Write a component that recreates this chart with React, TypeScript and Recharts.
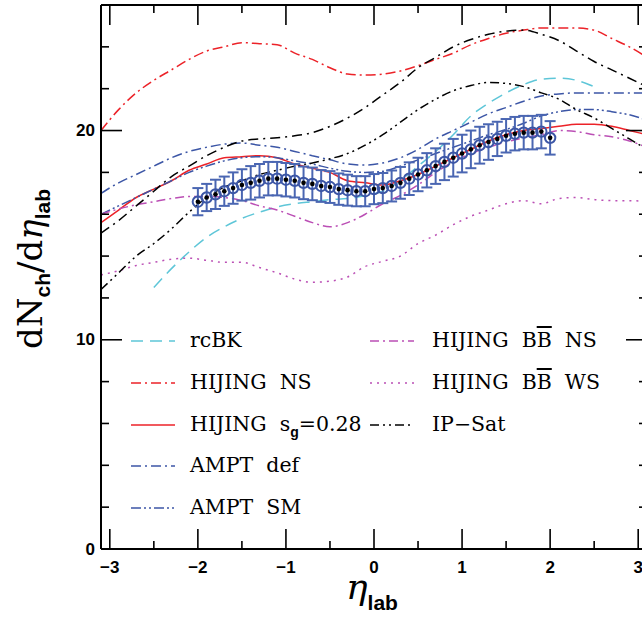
import React from "react";
import {
  ComposedChart,
  Line,
  Scatter,
  ErrorBar,
  XAxis,
  YAxis,
  ReferenceLine,
  Label,
} from "recharts";

// pseudorapidity grid for the model curves
const ETA = [
  -3.1, -2.9, -2.7, -2.5, -2.3, -2.1, -1.9, -1.7, -1.5, -1.3, -1.1, -0.9, -0.7, -0.5, -0.3, -0.1,
  0.1, 0.3, 0.5, 0.7, 0.9, 1.1, 1.3, 1.5, 1.7, 1.9, 2.1, 2.3, 2.5, 2.7, 2.9, 3.1,
];

const RCBK = [
  null, null, null, 12.5, 13.4, 14.2, 14.9, 15.4, 15.8, 16.1, 16.35, 16.5, 16.6, 16.7, 16.75, 16.9,
  17.1, 17.6, 18.3, 19.0, 19.8, 20.7, 21.3, 21.8, 22.2, 22.45, 22.5, 22.4, 22.1, null, null, null,
];
const HIJING_NS = [
  20.0, 21.0, 21.8, 22.4, 22.9, 23.4, 23.8, 24.0, 24.2, 24.15, 24.1, 23.7, 23.4, 23.0, 22.7, 22.65,
  22.7, 22.85, 23.1, 23.4, 23.7, 24.1, 24.4, 24.65, 24.8, 24.9, 24.9, 24.9, 24.8, 24.4, 24.0, 23.5,
];
const HIJING_SG = [
  15.6, 16.2, 16.8, 17.2, 17.6, 18.1, 18.4, 18.7, 18.75, 18.8, 18.7, 18.4, 18.2, 18.0, 17.6, 17.5,
  17.4, 17.6, 17.9, 18.3, 18.7, 19.1, 19.5, 19.8, 20.0, 20.1, 20.2, 20.3, 20.3, 20.2, 20.0, 19.8,
];
const AMPT_DEF = [
  17.0, 17.5, 17.9, 18.3, 18.7, 19.0, 19.2, 19.35, 19.4, 19.3, 19.2, 19.0, 18.8, 18.6, 18.4, 18.35,
  18.45, 18.7, 19.1, 19.6, 20.0, 20.4, 20.8, 21.1, 21.4, 21.65, 21.75, 21.8, 21.8, 21.8, 21.8, 21.8,
];
const AMPT_SM = [
  16.0, 16.4, 16.8, 17.2, 17.6, 18.0, 18.3, 18.55, 18.7, 18.75, 18.7, 18.55, 18.4, 18.2, 18.05, 18.0,
  18.05, 18.3, 18.6, 18.9, 19.2, 19.5, 19.8, 20.05, 20.35, 20.7, 20.9, 21.0, 21.0, 20.9, 20.75, 20.5,
];
const BB_NS = [
  16.0, 16.25, 16.45, 16.6, 16.75, 16.85, 16.85, 16.8, 16.65, 16.4, 16.2, 15.9, 15.6, 15.4, 15.6, 16.0,
  16.5, 16.9, 17.4, 18.0, 18.5, 18.9, 19.2, 19.45, 19.65, 19.8, 20.0, 19.95, 19.8, 19.7, 19.5, 19.2,
];
const BB_WS = [
  13.1, 13.3, 13.55, 13.7, 13.85, 13.9, 13.8, 13.7, 13.7, 13.45, 13.2, 12.9, 12.75, 12.8, 13.0, 13.5,
  13.75, 14.0, 14.6, 15.0, 15.5, 15.9, 16.2, 16.5, 16.65, 16.5, 16.75, 16.8, 16.7, 16.65, 16.65, 16.6,
];
const IPSAT_A = [
  12.4, 13.2, 14.0, 14.6, 15.3, 16.1, 16.8, 17.3, 17.6, 17.9, 18.1, 18.3, 18.45, 18.65, 18.9, 19.3,
  19.8, 20.4, 21.0, 21.5, 21.9, 22.15, 22.3, 22.25, 22.1, 21.8, 21.5, 21.0, 20.6, 20.1, 19.6, 19.1,
];
const IPSAT_B = [
  15.1, 15.7, 16.4, 17.1, 17.8, 18.3, 18.8, 19.2, 19.5, 19.6, 19.65, 19.75, 19.9, 20.2, 20.6, 21.1,
  21.7, 22.3, 23.0, 23.5, 24.0, 24.35, 24.6, 24.75, 24.8, 24.6, 24.3, 23.8, 23.3, 22.9, 22.5, 22.1,
];

// measured points
const DATA_ETA = [
  -2.0, -1.9, -1.8, -1.7, -1.6, -1.5, -1.4, -1.3, -1.2, -1.1, -1.0, -0.9, -0.8, -0.7, -0.6, -0.5,
  -0.4, -0.3, -0.2, -0.1, 0.0, 0.1, 0.2, 0.3, 0.4, 0.5, 0.6, 0.7, 0.8, 0.9, 1.0, 1.1, 1.2, 1.3, 1.4,
  1.5, 1.6, 1.7, 1.8, 1.9, 2.0,
];
const DATA_VAL = [
  16.6, 16.8, 16.95, 17.1, 17.25, 17.4, 17.5, 17.6, 17.7, 17.7, 17.65, 17.6, 17.5, 17.45, 17.35, 17.3,
  17.2, 17.15, 17.1, 17.1, 17.2, 17.25, 17.35, 17.5, 17.7, 17.9, 18.1, 18.3, 18.5, 18.7, 18.9, 19.1,
  19.3, 19.45, 19.6, 19.75, 19.85, 19.9, 19.9, 19.95, 19.65,
];
const DATA_ERR = [
  0.65, 0.65, 0.7, 0.7, 0.75, 0.75, 0.8, 0.8, 0.8, 0.8, 0.8, 0.8, 0.78, 0.78, 0.76, 0.76,
  0.75, 0.74, 0.72, 0.72, 0.72, 0.72, 0.74, 0.76, 0.78, 0.8, 0.82, 0.85, 0.87, 0.9, 0.9, 0.9,
  0.88, 0.85, 0.82, 0.8, 0.8, 0.8, 0.8, 0.8, 0.8,
];

const X_TICKS = [-3, -2.5, -2, -1.5, -1, -0.5, 0, 0.5, 1, 1.5, 2, 2.5, 3];
const Y_TICKS = [0, 2, 4, 6, 8, 10, 12, 14, 16, 18, 20, 22, 24];

const CYAN = "#5ec6d8";
const RED = "#ec2228";
const BLUE = "#3c56a6";
const BAR_BLUE = "#4a66b2";
const MAGENTA = "#bb4fb5";
const BLACK = "#000";

const W = 660;
const H = 625;
const MARGIN = { top: 5, right: 13, left: 0, bottom: 0 };
const Y_AXIS_W = 101;
const X_AXIS_H = 76;
const PLOT_W = W - MARGIN.right - Y_AXIS_W;
const PLOT_H = H - MARGIN.top - X_AXIS_H;

const SERIES = [
  { key: "rcbk", color: CYAN, dash: "12 7" },
  { key: "hijingNs", color: RED, dash: "10 4 2 4" },
  { key: "hijingSg", color: RED, dash: undefined },
  { key: "amptDef", color: BLUE, dash: "10 4 2 4" },
  { key: "amptSm", color: BLUE, dash: "10 3 2 3 2 3" },
  { key: "bbNs", color: MAGENTA, dash: "9 4 2 4" },
  { key: "bbWs", color: MAGENTA, dash: "2 5" },
  { key: "ipsatA", color: BLACK, dash: "9 4 2 4 2 4" },
  { key: "ipsatB", color: BLACK, dash: "10 5 2 5" },
];

const rows = ETA.map((eta, i) => ({
  eta,
  rcbk: RCBK[i],
  hijingNs: HIJING_NS[i],
  hijingSg: HIJING_SG[i],
  amptDef: AMPT_DEF[i],
  amptSm: AMPT_SM[i],
  bbNs: BB_NS[i],
  bbWs: BB_WS[i],
  ipsatA: IPSAT_A[i],
  ipsatB: IPSAT_B[i],
}));

const points = DATA_ETA.map((eta, i) => ({ eta, val: DATA_VAL[i], err: DATA_ERR[i] }));

const numFont = { fontFamily: "'Liberation Sans', Arial, sans-serif", fontSize: 17, fontWeight: 700 };
const serif = "'DejaVu Serif', serif";
const subFont = "'Liberation Sans', Arial, sans-serif";

const fmt = (v: number) => (v < 0 ? `\u2212${Math.abs(v)}` : `${v}`);

function XTick(props: any) {
  const { x, y, payload } = props;
  const v = payload.value;
  const major = Math.abs(v - Math.round(v)) < 1e-6;
  const len = major ? 20 : 8;
  return (
    <g>
      <line x1={x} y1={y} x2={x} y2={y - len} stroke="#000" strokeWidth={1.6} />
      <line x1={x} y1={y - PLOT_H} x2={x} y2={y - PLOT_H + len} stroke="#000" strokeWidth={1.6} />
      {major && (
        <text x={x} y={y + 18} textAnchor="middle" dominantBaseline="central" {...numFont}>
          {fmt(v)}
        </text>
      )}
    </g>
  );
}

function YTick(props: any) {
  const { x, y, payload } = props;
  const v = payload.value;
  const major = v % 10 === 0;
  const len = major ? 21 : 8;
  return (
    <g>
      <line x1={x} y1={y} x2={x + len} y2={y} stroke="#000" strokeWidth={1.6} />
      <line x1={x + PLOT_W} y1={y} x2={x + PLOT_W - len} y2={y} stroke="#000" strokeWidth={1.6} />
      {major && (
        <text x={x - 6} y={y} textAnchor="end" dominantBaseline="central" {...numFont}>
          {v}
        </text>
      )}
    </g>
  );
}

function YLabel(props: any) {
  const vb = props.viewBox || { x: 0, y: 0, width: 0, height: 0 };
  const cx = vb.x + 42;
  const cy = vb.y + vb.height / 2 - 8;
  return (
    <text
      x={cx}
      y={cy}
      transform={`rotate(-90 ${cx} ${cy})`}
      textAnchor="middle"
      fontFamily={serif}
      fontSize={34}
    >
      <tspan>dN</tspan>
      <tspan fontFamily={subFont} fontWeight={700} fontSize={21} dy={8}>ch</tspan>
      <tspan dy={-8}>/d</tspan>
      <tspan fontStyle="italic">η</tspan>
      <tspan fontFamily={subFont} fontWeight={700} fontSize={21} dy={8}>lab</tspan>
    </text>
  );
}

function XLabel() {
  return (
    <text x={372} y={599} textAnchor="middle" fontFamily={serif} fontSize={36}>
      <tspan fontStyle="italic">η</tspan>
      <tspan fontFamily={subFont} fontWeight={700} fontSize={21} dy={11}>lab</tspan>
    </text>
  );
}

function DataPoint(props: any) {
  const { cx, cy } = props;
  return (
    <g>
      <circle cx={cx} cy={cy} r={5.2} fill="none" stroke={BLUE} strokeWidth={2} />
      <circle cx={cx} cy={cy} r={2.3} fill="#000" />
    </g>
  );
}

function Sample({ color, dash }: { color: string; dash?: string }) {
  return (
    <svg width={44} height={10} style={{ display: "block" }}>
      <line x1={0} y1={5} x2={44} y2={5} stroke={color} strokeWidth={1.6} strokeDasharray={dash} />
    </svg>
  );
}

const sub: React.CSSProperties = {
  fontFamily: subFont,
  fontWeight: 700,
  fontSize: 14,
  position: "relative",
  top: 6,
};
const bar: React.CSSProperties = { textDecoration: "overline" };

const LEFT_ITEMS = [
  { s: SERIES[0], text: <>rcBK</> },
  { s: SERIES[1], text: <>HIJING&nbsp;&nbsp;NS</> },
  { s: SERIES[2], text: <>HIJING&nbsp;&nbsp;s<span style={sub}>g</span>=0.28</> },
  { s: SERIES[3], text: <>AMPT&nbsp;&nbsp;def</> },
  { s: SERIES[4], text: <>AMPT&nbsp;&nbsp;SM</> },
];
const RIGHT_ITEMS = [
  { s: SERIES[5], text: <>HIJING&nbsp;&nbsp;B<span style={bar}>B</span>&nbsp;&nbsp;NS</> },
  { s: SERIES[6], text: <>HIJING&nbsp;&nbsp;B<span style={bar}>B</span>&nbsp;&nbsp;WS</> },
  { s: SERIES[7], text: <>IP−Sat</> },
];

function LegendBox() {
  const item = (it: any, i: number, sx: number, tx: number) => (
    <div key={it.s.key} style={{ position: "absolute", left: 0, top: 341 + i * 41.8 - 5 }}>
      <div style={{ position: "absolute", left: sx, top: 0 }}>
        <Sample color={it.s.color} dash={it.s.dash} />
      </div>
      <div
        style={{
          position: "absolute",
          left: tx,
          top: -9,
          whiteSpace: "nowrap",
          fontFamily: serif,
          fontSize: 20.5,
          lineHeight: "26px",
          color: "#000",
        }}
      >
        {it.text}
      </div>
    </div>
  );
  return (
    <div style={{ position: "absolute", left: 0, top: 0, pointerEvents: "none" }}>
      {LEFT_ITEMS.map((it, i) => item(it, i, 131, 190))}
      {RIGHT_ITEMS.map((it, i) => item(it, i, 370, 432))}
    </div>
  );
}

export default function App() {
  return (
    <div
      style={{
        position: "absolute",
        left: 0,
        top: 0,
        width: 642,
        height: 625,
        overflow: "hidden",
        background: "#fff",
      }}
    >
      <ComposedChart width={W} height={H} data={rows} margin={MARGIN}>
        <XAxis
          dataKey="eta"
          type="number"
          domain={[-3.1, 3.1]}
          allowDataOverflow
          ticks={X_TICKS}
          interval={0}
          tickSize={0}
          tickMargin={0}
          tickLine={false}
          tick={<XTick />}
          height={X_AXIS_H}
          axisLine={{ stroke: "#000", strokeWidth: 2 }}
        >
          <Label content={<XLabel />} />
        </XAxis>
        <YAxis
          type="number"
          domain={[0, 26]}
          allowDataOverflow
          ticks={Y_TICKS}
          interval={0}
          tickSize={0}
          tickMargin={0}
          tickLine={false}
          tick={<YTick />}
          width={Y_AXIS_W}
          axisLine={{ stroke: "#000", strokeWidth: 2 }}
        >
          <Label content={<YLabel />} />
        </YAxis>
        <ReferenceLine y={26} stroke="#000" strokeWidth={2} />
        <ReferenceLine x={3.1} stroke="#000" strokeWidth={2} />
        {SERIES.map((s) => (
          <Line
            key={s.key}
            dataKey={s.key}
            type="monotone"
            stroke={s.color}
            strokeWidth={1.5}
            strokeDasharray={s.dash}
            dot={false}
            activeDot={false}
            isAnimationActive={false}
            connectNulls={false}
          />
        ))}
        <Scatter data={points} dataKey="val" shape={<DataPoint />} isAnimationActive={false}>
          <ErrorBar
            dataKey="err"
            direction="y"
            width={5.5}
            stroke={BAR_BLUE}
            strokeWidth={2}
            isAnimationActive={false}
          />
        </Scatter>
      </ComposedChart>
      <LegendBox />
    </div>
  );
}
